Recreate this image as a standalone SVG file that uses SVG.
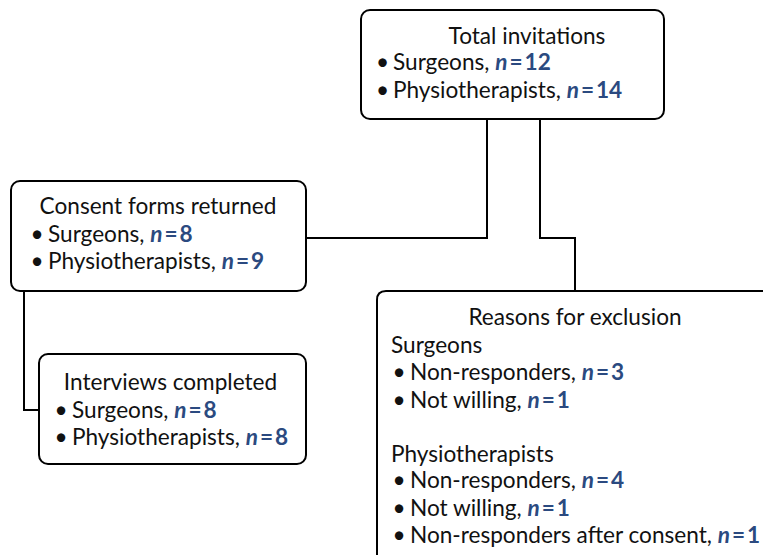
<svg xmlns="http://www.w3.org/2000/svg" width="763" height="555" viewBox="0 0 763 555">
<style>
.box{fill:#fff;stroke:#000;stroke-width:2}
.ln{fill:none;stroke:#000;stroke-width:2}
text{font-family:Lato,"Noto Sans",sans-serif;font-size:22.6px;fill:#111}
.b{text-anchor:middle}
.n{fill:#2b4a80;font-weight:bold}
.i{font-style:italic}
.c{text-anchor:middle}
</style>
<rect width="763" height="555" fill="#fff"/>
<g id="connectors">
<path class="ln" d="M487 119V238H306"/>
<path class="ln" d="M540 119V238H575V291"/>
<path class="ln" d="M24 291V410H39"/>
</g>
<g id="total">
<rect class="box" x="361" y="10" width="303" height="109" rx="9"/>
<text class="c" x="527" y="44">Total invitations</text>
<text class="b" x="382.5" y="70">•</text>
<text x="393" y="70">Surgeons, <tspan class="n"><tspan class="i">n</tspan><tspan dx="2">=</tspan><tspan dx="2">12</tspan></tspan></text>
<text class="b" x="382.5" y="98">•</text>
<text x="393" y="98">Physiotherapists, <tspan class="n"><tspan class="i">n</tspan><tspan dx="2">=</tspan><tspan dx="2">14</tspan></tspan></text>
</g>
<g id="consent">
<rect class="box" x="11" y="181" width="295" height="110" rx="9"/>
<text class="c" x="158" y="214">Consent forms returned</text>
<text class="b" x="37" y="242">•</text>
<text x="48" y="242">Surgeons, <tspan class="n"><tspan class="i">n</tspan><tspan dx="2">=</tspan><tspan dx="2">8</tspan></tspan></text>
<text class="b" x="37" y="269">•</text>
<text x="48" y="269">Physiotherapists, <tspan class="n"><tspan class="i">n</tspan><tspan dx="2">=</tspan><tspan dx="2">9</tspan></tspan></text>
</g>
<g id="interviews">
<rect class="box" x="39" y="354" width="267" height="110" rx="9"/>
<text class="c" x="170.5" y="390">Interviews completed</text>
<text class="b" x="61" y="418">•</text>
<text x="72" y="418">Surgeons, <tspan class="n"><tspan class="i">n</tspan><tspan dx="2">=</tspan><tspan dx="2">8</tspan></tspan></text>
<text class="b" x="61" y="445">•</text>
<text x="72" y="445">Physiotherapists, <tspan class="n"><tspan class="i">n</tspan><tspan dx="2">=</tspan><tspan dx="2">8</tspan></tspan></text>
</g>
<g id="exclusion">
<path class="ln" d="M377 560V300Q377 291 386 291H770" style="fill:#fff"/>
<text class="c" x="575" y="325">Reasons for exclusion</text>
<text x="391" y="353">Surgeons</text>
<text class="b" x="399" y="380">•</text>
<text x="410" y="380">Non-responders, <tspan class="n"><tspan class="i">n</tspan><tspan dx="2">=</tspan><tspan dx="2">3</tspan></tspan></text>
<text class="b" x="399" y="408">•</text>
<text x="410" y="408">Not willing, <tspan class="n"><tspan class="i">n</tspan><tspan dx="2">=</tspan><tspan dx="2">1</tspan></tspan></text>
<text x="391" y="462">Physiotherapists</text>
<text class="b" x="399" y="488">•</text>
<text x="410" y="488">Non-responders, <tspan class="n"><tspan class="i">n</tspan><tspan dx="2">=</tspan><tspan dx="2">4</tspan></tspan></text>
<text class="b" x="399" y="516">•</text>
<text x="410" y="516">Not willing, <tspan class="n"><tspan class="i">n</tspan><tspan dx="2">=</tspan><tspan dx="2">1</tspan></tspan></text>
<text class="b" x="399" y="543">•</text>
<text x="410" y="543">Non-responders after consent, <tspan class="n"><tspan class="i">n</tspan><tspan dx="2">=</tspan><tspan dx="2">1</tspan></tspan></text>
</g>
</svg>
